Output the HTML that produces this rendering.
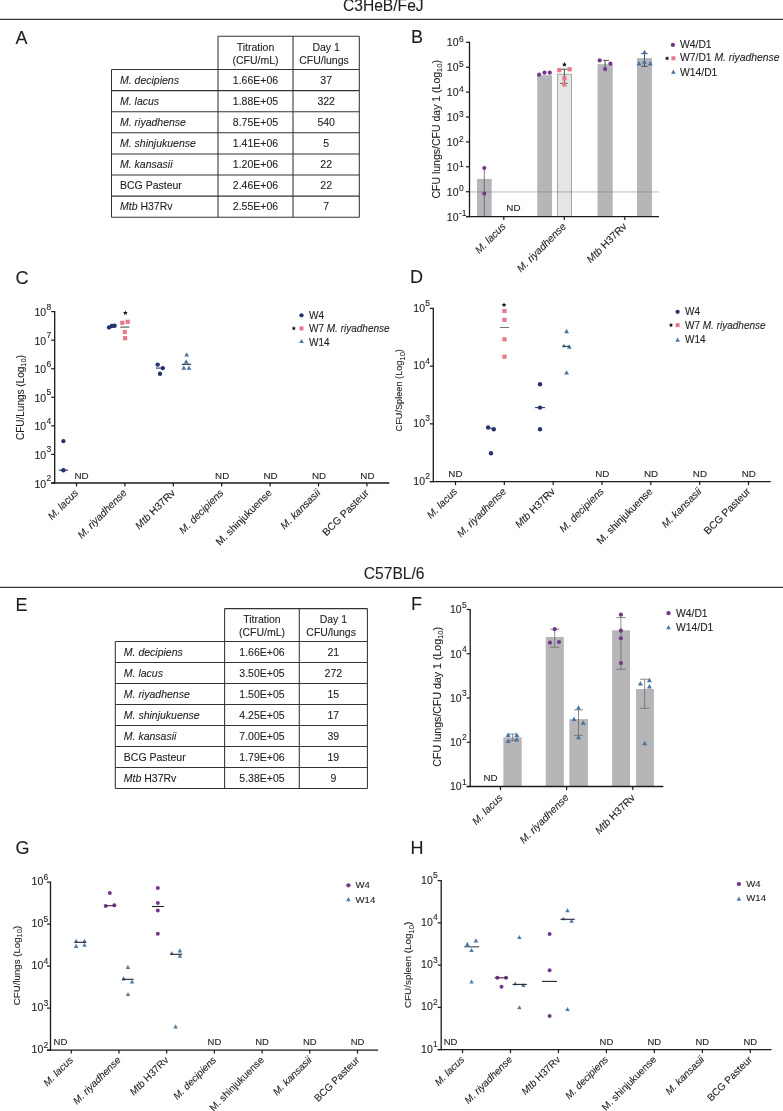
<!DOCTYPE html>
<html><head><meta charset="utf-8"><title>Figure</title>
<style>
html,body{margin:0;padding:0;background:#fff;}
body{width:783px;height:1111px;overflow:hidden;}
svg{display:block;font-family:"Liberation Sans",sans-serif;filter:blur(0.35px);}
text{stroke:#1e1e1e;stroke-width:0.1px;}
</style></head><body>
<svg width="783" height="1111" viewBox="0 0 783 1111">
<rect x="0" y="0" width="783" height="1111" fill="#fff"/>
<text x="343.00" y="10.90" font-size="15.6" text-anchor="start" fill="#1e1e1e" >C3HeB/FeJ</text>
<line x1="0.00" y1="19.30" x2="783.00" y2="19.30" stroke="#3a3a3a" stroke-width="1.3" />
<text x="363.80" y="578.90" font-size="15.6" text-anchor="start" fill="#1e1e1e" >C57BL/6</text>
<line x1="0.00" y1="587.30" x2="783.00" y2="587.30" stroke="#3a3a3a" stroke-width="1.3" />
<text x="15.60" y="43.90" font-size="18" text-anchor="start" fill="#1e1e1e" >A</text>
<text x="411.10" y="43.20" font-size="18" text-anchor="start" fill="#1e1e1e" >B</text>
<text x="15.60" y="283.80" font-size="18" text-anchor="start" fill="#1e1e1e" >C</text>
<text x="410.10" y="283.30" font-size="18" text-anchor="start" fill="#1e1e1e" >D</text>
<text x="15.60" y="610.70" font-size="18" text-anchor="start" fill="#1e1e1e" >E</text>
<text x="411.10" y="610.40" font-size="18" text-anchor="start" fill="#1e1e1e" >F</text>
<text x="15.60" y="854.30" font-size="18" text-anchor="start" fill="#1e1e1e" >G</text>
<text x="410.60" y="854.30" font-size="18" text-anchor="start" fill="#1e1e1e" >H</text>
<line x1="218.00" y1="36.30" x2="359.30" y2="36.30" stroke="#333333" stroke-width="1.05" />
<line x1="218.00" y1="36.30" x2="218.00" y2="217.20" stroke="#333333" stroke-width="1.05" />
<line x1="293.00" y1="36.30" x2="293.00" y2="217.20" stroke="#333333" stroke-width="1.05" />
<line x1="359.30" y1="36.30" x2="359.30" y2="217.20" stroke="#333333" stroke-width="1.05" />
<line x1="111.50" y1="69.50" x2="111.50" y2="217.20" stroke="#333333" stroke-width="1.05" />
<line x1="111.50" y1="69.50" x2="359.30" y2="69.50" stroke="#333333" stroke-width="1.05" />
<line x1="111.50" y1="90.60" x2="359.30" y2="90.60" stroke="#333333" stroke-width="1.05" />
<line x1="111.50" y1="111.70" x2="359.30" y2="111.70" stroke="#333333" stroke-width="1.05" />
<line x1="111.50" y1="132.80" x2="359.30" y2="132.80" stroke="#333333" stroke-width="1.05" />
<line x1="111.50" y1="153.90" x2="359.30" y2="153.90" stroke="#333333" stroke-width="1.05" />
<line x1="111.50" y1="175.00" x2="359.30" y2="175.00" stroke="#333333" stroke-width="1.05" />
<line x1="111.50" y1="196.10" x2="359.30" y2="196.10" stroke="#333333" stroke-width="1.05" />
<line x1="111.50" y1="217.20" x2="359.30" y2="217.20" stroke="#333333" stroke-width="1.05" />
<text x="255.50" y="50.50" font-size="10.5" text-anchor="middle" fill="#1e1e1e" >Titration</text>
<text x="255.50" y="63.60" font-size="10.5" text-anchor="middle" fill="#1e1e1e" >(CFU/mL)</text>
<text x="326.15" y="50.50" font-size="10.5" text-anchor="middle" fill="#1e1e1e" >Day 1</text>
<text x="323.95" y="63.60" font-size="10.5" text-anchor="middle" fill="#1e1e1e" >CFU/lungs</text>
<text x="120.00" y="83.85" font-size="10.5" text-anchor="start" fill="#1e1e1e" ><tspan font-style="italic">M. decipiens</tspan></text>
<text x="255.50" y="83.85" font-size="10.5" text-anchor="middle" fill="#1e1e1e" >1.66E+06</text>
<text x="326.15" y="83.85" font-size="10.5" text-anchor="middle" fill="#1e1e1e" >37</text>
<text x="120.00" y="104.95" font-size="10.5" text-anchor="start" fill="#1e1e1e" ><tspan font-style="italic">M. lacus</tspan></text>
<text x="255.50" y="104.95" font-size="10.5" text-anchor="middle" fill="#1e1e1e" >1.88E+05</text>
<text x="326.15" y="104.95" font-size="10.5" text-anchor="middle" fill="#1e1e1e" >322</text>
<text x="120.00" y="126.05" font-size="10.5" text-anchor="start" fill="#1e1e1e" ><tspan font-style="italic">M. riyadhense</tspan></text>
<text x="255.50" y="126.05" font-size="10.5" text-anchor="middle" fill="#1e1e1e" >8.75E+05</text>
<text x="326.15" y="126.05" font-size="10.5" text-anchor="middle" fill="#1e1e1e" >540</text>
<text x="120.00" y="147.15" font-size="10.5" text-anchor="start" fill="#1e1e1e" ><tspan font-style="italic">M. shinjukuense</tspan></text>
<text x="255.50" y="147.15" font-size="10.5" text-anchor="middle" fill="#1e1e1e" >1.41E+06</text>
<text x="326.15" y="147.15" font-size="10.5" text-anchor="middle" fill="#1e1e1e" >5</text>
<text x="120.00" y="168.25" font-size="10.5" text-anchor="start" fill="#1e1e1e" ><tspan font-style="italic">M. kansasii</tspan></text>
<text x="255.50" y="168.25" font-size="10.5" text-anchor="middle" fill="#1e1e1e" >1.20E+06</text>
<text x="326.15" y="168.25" font-size="10.5" text-anchor="middle" fill="#1e1e1e" >22</text>
<text x="120.00" y="189.35" font-size="10.5" text-anchor="start" fill="#1e1e1e" >BCG Pasteur</text>
<text x="255.50" y="189.35" font-size="10.5" text-anchor="middle" fill="#1e1e1e" >2.46E+06</text>
<text x="326.15" y="189.35" font-size="10.5" text-anchor="middle" fill="#1e1e1e" >22</text>
<text x="120.00" y="210.45" font-size="10.5" text-anchor="start" fill="#1e1e1e" ><tspan font-style="italic">Mtb</tspan> H37Rv</text>
<text x="255.50" y="210.45" font-size="10.5" text-anchor="middle" fill="#1e1e1e" >2.55E+06</text>
<text x="326.15" y="210.45" font-size="10.5" text-anchor="middle" fill="#1e1e1e" >7</text>
<line x1="224.60" y1="608.60" x2="367.40" y2="608.60" stroke="#333333" stroke-width="1.05" />
<line x1="224.60" y1="608.60" x2="224.60" y2="788.40" stroke="#333333" stroke-width="1.05" />
<line x1="299.30" y1="608.60" x2="299.30" y2="788.40" stroke="#333333" stroke-width="1.05" />
<line x1="367.40" y1="608.60" x2="367.40" y2="788.40" stroke="#333333" stroke-width="1.05" />
<line x1="115.30" y1="641.40" x2="115.30" y2="788.40" stroke="#333333" stroke-width="1.05" />
<line x1="115.30" y1="641.40" x2="367.40" y2="641.40" stroke="#333333" stroke-width="1.05" />
<line x1="115.30" y1="662.40" x2="367.40" y2="662.40" stroke="#333333" stroke-width="1.05" />
<line x1="115.30" y1="683.40" x2="367.40" y2="683.40" stroke="#333333" stroke-width="1.05" />
<line x1="115.30" y1="704.40" x2="367.40" y2="704.40" stroke="#333333" stroke-width="1.05" />
<line x1="115.30" y1="725.40" x2="367.40" y2="725.40" stroke="#333333" stroke-width="1.05" />
<line x1="115.30" y1="746.40" x2="367.40" y2="746.40" stroke="#333333" stroke-width="1.05" />
<line x1="115.30" y1="767.40" x2="367.40" y2="767.40" stroke="#333333" stroke-width="1.05" />
<line x1="115.30" y1="788.40" x2="367.40" y2="788.40" stroke="#333333" stroke-width="1.05" />
<text x="261.95" y="622.80" font-size="10.5" text-anchor="middle" fill="#1e1e1e" >Titration</text>
<text x="261.95" y="635.90" font-size="10.5" text-anchor="middle" fill="#1e1e1e" >(CFU/mL)</text>
<text x="333.35" y="622.80" font-size="10.5" text-anchor="middle" fill="#1e1e1e" >Day 1</text>
<text x="331.15" y="635.90" font-size="10.5" text-anchor="middle" fill="#1e1e1e" >CFU/lungs</text>
<text x="123.80" y="655.70" font-size="10.5" text-anchor="start" fill="#1e1e1e" ><tspan font-style="italic">M. decipiens</tspan></text>
<text x="261.95" y="655.70" font-size="10.5" text-anchor="middle" fill="#1e1e1e" >1.66E+06</text>
<text x="333.35" y="655.70" font-size="10.5" text-anchor="middle" fill="#1e1e1e" >21</text>
<text x="123.80" y="676.70" font-size="10.5" text-anchor="start" fill="#1e1e1e" ><tspan font-style="italic">M. lacus</tspan></text>
<text x="261.95" y="676.70" font-size="10.5" text-anchor="middle" fill="#1e1e1e" >3.50E+05</text>
<text x="333.35" y="676.70" font-size="10.5" text-anchor="middle" fill="#1e1e1e" >272</text>
<text x="123.80" y="697.70" font-size="10.5" text-anchor="start" fill="#1e1e1e" ><tspan font-style="italic">M. riyadhense</tspan></text>
<text x="261.95" y="697.70" font-size="10.5" text-anchor="middle" fill="#1e1e1e" >1.50E+05</text>
<text x="333.35" y="697.70" font-size="10.5" text-anchor="middle" fill="#1e1e1e" >15</text>
<text x="123.80" y="718.70" font-size="10.5" text-anchor="start" fill="#1e1e1e" ><tspan font-style="italic">M. shinjukuense</tspan></text>
<text x="261.95" y="718.70" font-size="10.5" text-anchor="middle" fill="#1e1e1e" >4.25E+05</text>
<text x="333.35" y="718.70" font-size="10.5" text-anchor="middle" fill="#1e1e1e" >17</text>
<text x="123.80" y="739.70" font-size="10.5" text-anchor="start" fill="#1e1e1e" ><tspan font-style="italic">M. kansasii</tspan></text>
<text x="261.95" y="739.70" font-size="10.5" text-anchor="middle" fill="#1e1e1e" >7.00E+05</text>
<text x="333.35" y="739.70" font-size="10.5" text-anchor="middle" fill="#1e1e1e" >39</text>
<text x="123.80" y="760.70" font-size="10.5" text-anchor="start" fill="#1e1e1e" >BCG Pasteur</text>
<text x="261.95" y="760.70" font-size="10.5" text-anchor="middle" fill="#1e1e1e" >1.79E+06</text>
<text x="333.35" y="760.70" font-size="10.5" text-anchor="middle" fill="#1e1e1e" >19</text>
<text x="123.80" y="781.70" font-size="10.5" text-anchor="start" fill="#1e1e1e" ><tspan font-style="italic">Mtb</tspan> H37Rv</text>
<text x="261.95" y="781.70" font-size="10.5" text-anchor="middle" fill="#1e1e1e" >5.38E+05</text>
<text x="333.35" y="781.70" font-size="10.5" text-anchor="middle" fill="#1e1e1e" >9</text>
<rect x="477.00" y="178.90" width="14.70" height="37.70" fill="#b6b6b8" stroke="none" stroke-width="0"/>
<rect x="537.20" y="75.20" width="14.80" height="141.40" fill="#b6b6b8" stroke="none" stroke-width="0"/>
<rect x="557.50" y="74.20" width="14.00" height="142.40" fill="#e3e6e5" stroke="#8f8f8f" stroke-width="0.75"/>
<rect x="597.50" y="64.20" width="15.20" height="152.40" fill="#b6b6b8" stroke="none" stroke-width="0"/>
<rect x="637.00" y="58.10" width="15.00" height="158.50" fill="#b6b6b8" stroke="none" stroke-width="0"/>
<line x1="469.50" y1="191.90" x2="659.00" y2="191.90" stroke="rgba(120,120,120,0.28)" stroke-width="1.8" />
<line x1="484.30" y1="168.00" x2="484.30" y2="216.60" stroke="#6a5570" stroke-width="0.8" />
<line x1="564.40" y1="69.20" x2="564.40" y2="83.40" stroke="#335a4a" stroke-width="1.0" />
<line x1="561.00" y1="69.20" x2="567.60" y2="69.20" stroke="#335a4a" stroke-width="1.0" />
<line x1="560.20" y1="83.40" x2="567.60" y2="83.40" stroke="#335a4a" stroke-width="1.0" />
<line x1="605.10" y1="60.40" x2="605.10" y2="69.10" stroke="#444" stroke-width="0.9" />
<line x1="603.00" y1="60.40" x2="609.00" y2="60.40" stroke="#444" stroke-width="0.9" />
<line x1="644.50" y1="52.00" x2="644.50" y2="66.30" stroke="#2a4a6a" stroke-width="0.9" />
<line x1="641.30" y1="53.50" x2="647.70" y2="53.50" stroke="#2a4a6a" stroke-width="0.9" />
<line x1="641.30" y1="66.30" x2="647.70" y2="66.30" stroke="#2a4a6a" stroke-width="0.9" />
<circle cx="484.30" cy="168.00" r="2.1" fill="#74388a"/>
<circle cx="484.30" cy="193.60" r="2.1" fill="#74388a"/>
<circle cx="539.10" cy="74.70" r="2.1" fill="#74388a"/>
<circle cx="544.50" cy="72.70" r="2.1" fill="#74388a"/>
<circle cx="549.80" cy="72.70" r="2.1" fill="#74388a"/>
<rect x="557.20" y="68.10" width="4.2" height="4.2" fill="#e8788a"/>
<rect x="567.50" y="67.20" width="4.2" height="4.2" fill="#e8788a"/>
<rect x="562.30" y="76.30" width="4.2" height="4.2" fill="#e8788a"/>
<rect x="562.30" y="82.40" width="4.2" height="4.2" fill="#e8788a"/>
<polygon points="564.40,62.00 565.09,63.65 566.87,63.80 565.51,64.96 565.93,66.70 564.40,65.77 562.87,66.70 563.29,64.96 561.93,63.80 563.71,63.65" fill="#111"/>
<circle cx="599.70" cy="60.40" r="2.1" fill="#74388a"/>
<circle cx="610.40" cy="63.70" r="2.1" fill="#74388a"/>
<circle cx="605.10" cy="69.10" r="2.1" fill="#74388a"/>
<polygon points="644.50,49.80 642.00,54.30 647.00,54.30" fill="#4a75a0"/>
<polygon points="639.00,61.00 636.50,65.50 641.50,65.50" fill="#4a75a0"/>
<polygon points="650.30,61.00 647.80,65.50 652.80,65.50" fill="#4a75a0"/>
<polygon points="644.50,59.30 642.00,63.80 647.00,63.80" fill="#4a75a0"/>
<line x1="469.50" y1="41.70" x2="469.50" y2="217.20" stroke="#1a1a1a" stroke-width="1.3" />
<line x1="466.00" y1="42.30" x2="469.50" y2="42.30" stroke="#1a1a1a" stroke-width="1.2" />
<text x="458.50" y="46.40" font-size="10.5" text-anchor="end" fill="#1e1e1e" >10</text>
<text x="458.90" y="42.00" font-size="8.5" text-anchor="start" fill="#1e1e1e" >6</text>
<line x1="466.00" y1="67.20" x2="469.50" y2="67.20" stroke="#1a1a1a" stroke-width="1.2" />
<text x="458.50" y="71.30" font-size="10.5" text-anchor="end" fill="#1e1e1e" >10</text>
<text x="458.90" y="66.90" font-size="8.5" text-anchor="start" fill="#1e1e1e" >5</text>
<line x1="466.00" y1="92.10" x2="469.50" y2="92.10" stroke="#1a1a1a" stroke-width="1.2" />
<text x="458.50" y="96.20" font-size="10.5" text-anchor="end" fill="#1e1e1e" >10</text>
<text x="458.90" y="91.80" font-size="8.5" text-anchor="start" fill="#1e1e1e" >4</text>
<line x1="466.00" y1="117.00" x2="469.50" y2="117.00" stroke="#1a1a1a" stroke-width="1.2" />
<text x="458.50" y="121.10" font-size="10.5" text-anchor="end" fill="#1e1e1e" >10</text>
<text x="458.90" y="116.70" font-size="8.5" text-anchor="start" fill="#1e1e1e" >3</text>
<line x1="466.00" y1="141.90" x2="469.50" y2="141.90" stroke="#1a1a1a" stroke-width="1.2" />
<text x="458.50" y="146.00" font-size="10.5" text-anchor="end" fill="#1e1e1e" >10</text>
<text x="458.90" y="141.60" font-size="8.5" text-anchor="start" fill="#1e1e1e" >2</text>
<line x1="466.00" y1="166.80" x2="469.50" y2="166.80" stroke="#1a1a1a" stroke-width="1.2" />
<text x="458.50" y="170.90" font-size="10.5" text-anchor="end" fill="#1e1e1e" >10</text>
<text x="458.90" y="166.50" font-size="8.5" text-anchor="start" fill="#1e1e1e" >1</text>
<line x1="466.00" y1="191.70" x2="469.50" y2="191.70" stroke="#1a1a1a" stroke-width="1.2" />
<text x="458.50" y="195.80" font-size="10.5" text-anchor="end" fill="#1e1e1e" >10</text>
<text x="458.90" y="191.40" font-size="8.5" text-anchor="start" fill="#1e1e1e" >0</text>
<line x1="466.00" y1="216.60" x2="469.50" y2="216.60" stroke="#1a1a1a" stroke-width="1.2" />
<text x="458.50" y="220.70" font-size="10.5" text-anchor="end" fill="#1e1e1e" >10</text>
<text x="458.90" y="216.30" font-size="8.5" text-anchor="start" fill="#1e1e1e" >-1</text>
<line x1="466.00" y1="216.60" x2="659.00" y2="216.60" stroke="#1a1a1a" stroke-width="1.3" />
<line x1="503.80" y1="216.60" x2="503.80" y2="220.10" stroke="#1a1a1a" stroke-width="1.2" />
<line x1="564.30" y1="216.60" x2="564.30" y2="220.10" stroke="#1a1a1a" stroke-width="1.2" />
<line x1="624.80" y1="216.60" x2="624.80" y2="220.10" stroke="#1a1a1a" stroke-width="1.2" />
<text x="513.40" y="211.00" font-size="9.8" text-anchor="middle" fill="#1e1e1e" >ND</text>
<text x="506.30" y="227.10" font-size="10.3" text-anchor="end" fill="#1e1e1e" transform="rotate(-45 506.30 227.10)"><tspan font-style="italic">M. lacus</tspan></text>
<text x="566.80" y="227.10" font-size="10.3" text-anchor="end" fill="#1e1e1e" transform="rotate(-45 566.80 227.10)"><tspan font-style="italic">M. riyadhense</tspan></text>
<text x="627.30" y="227.10" font-size="10.3" text-anchor="end" fill="#1e1e1e" transform="rotate(-45 627.30 227.10)"><tspan font-style="italic">Mtb</tspan> H37Rv</text>
<text x="440.10" y="129.30" font-size="10.5" text-anchor="middle" fill="#1e1e1e" transform="rotate(-90 440.10 129.30)">CFU lungs/CFU day 1 (Log<tspan font-size="7.5" dy="2.4">10</tspan><tspan dy="-2.4">)</tspan></text>
<circle cx="672.90" cy="44.90" r="2.15" fill="#74388a"/>
<text x="680.00" y="47.60" font-size="10.35" text-anchor="start" fill="#1e1e1e" >W4/D1</text>
<polygon points="667.10,55.90 667.73,57.43 669.38,57.56 668.13,58.63 668.51,60.24 667.10,59.38 665.69,60.24 666.07,58.63 664.82,57.56 666.47,57.43" fill="#111"/>
<rect x="671.40" y="56.30" width="4.0" height="4.0" fill="#e8788a"/>
<text x="680.00" y="61.40" font-size="10.35" text-anchor="start" fill="#1e1e1e" >W7/D1 <tspan font-style="italic">M. riyadhense</tspan></text>
<polygon points="673.40,69.62 671.10,73.76 675.70,73.76" fill="#4a75a0"/>
<text x="680.00" y="75.50" font-size="10.35" text-anchor="start" fill="#1e1e1e" >W14/D1</text>
<line x1="54.70" y1="311.00" x2="54.70" y2="483.60" stroke="#1a1a1a" stroke-width="1.3" />
<line x1="51.20" y1="311.60" x2="54.70" y2="311.60" stroke="#1a1a1a" stroke-width="1.2" />
<text x="46.20" y="316.20" font-size="10.5" text-anchor="end" fill="#1e1e1e" >10</text>
<text x="46.50" y="309.50" font-size="8.5" text-anchor="start" fill="#1e1e1e" >8</text>
<line x1="51.20" y1="340.17" x2="54.70" y2="340.17" stroke="#1a1a1a" stroke-width="1.2" />
<text x="46.20" y="344.77" font-size="10.5" text-anchor="end" fill="#1e1e1e" >10</text>
<text x="46.50" y="338.07" font-size="8.5" text-anchor="start" fill="#1e1e1e" >7</text>
<line x1="51.20" y1="368.73" x2="54.70" y2="368.73" stroke="#1a1a1a" stroke-width="1.2" />
<text x="46.20" y="373.33" font-size="10.5" text-anchor="end" fill="#1e1e1e" >10</text>
<text x="46.50" y="366.63" font-size="8.5" text-anchor="start" fill="#1e1e1e" >6</text>
<line x1="51.20" y1="397.30" x2="54.70" y2="397.30" stroke="#1a1a1a" stroke-width="1.2" />
<text x="46.20" y="401.90" font-size="10.5" text-anchor="end" fill="#1e1e1e" >10</text>
<text x="46.50" y="395.20" font-size="8.5" text-anchor="start" fill="#1e1e1e" >5</text>
<line x1="51.20" y1="425.87" x2="54.70" y2="425.87" stroke="#1a1a1a" stroke-width="1.2" />
<text x="46.20" y="430.47" font-size="10.5" text-anchor="end" fill="#1e1e1e" >10</text>
<text x="46.50" y="423.77" font-size="8.5" text-anchor="start" fill="#1e1e1e" >4</text>
<line x1="51.20" y1="454.43" x2="54.70" y2="454.43" stroke="#1a1a1a" stroke-width="1.2" />
<text x="46.20" y="459.03" font-size="10.5" text-anchor="end" fill="#1e1e1e" >10</text>
<text x="46.50" y="452.33" font-size="8.5" text-anchor="start" fill="#1e1e1e" >3</text>
<line x1="51.20" y1="483.00" x2="54.70" y2="483.00" stroke="#1a1a1a" stroke-width="1.2" />
<text x="46.20" y="487.60" font-size="10.5" text-anchor="end" fill="#1e1e1e" >10</text>
<text x="46.50" y="480.90" font-size="8.5" text-anchor="start" fill="#1e1e1e" >2</text>
<line x1="51.20" y1="483.00" x2="389.40" y2="483.00" stroke="#1a1a1a" stroke-width="1.3" />
<line x1="76.50" y1="483.00" x2="76.50" y2="486.50" stroke="#1a1a1a" stroke-width="1.2" />
<line x1="124.90" y1="483.00" x2="124.90" y2="486.50" stroke="#1a1a1a" stroke-width="1.2" />
<line x1="173.30" y1="483.00" x2="173.30" y2="486.50" stroke="#1a1a1a" stroke-width="1.2" />
<line x1="221.70" y1="483.00" x2="221.70" y2="486.50" stroke="#1a1a1a" stroke-width="1.2" />
<line x1="270.10" y1="483.00" x2="270.10" y2="486.50" stroke="#1a1a1a" stroke-width="1.2" />
<line x1="318.50" y1="483.00" x2="318.50" y2="486.50" stroke="#1a1a1a" stroke-width="1.2" />
<line x1="366.90" y1="483.00" x2="366.90" y2="486.50" stroke="#1a1a1a" stroke-width="1.2" />
<text x="79.00" y="493.50" font-size="10.3" text-anchor="end" fill="#1e1e1e" transform="rotate(-45 79.00 493.50)"><tspan font-style="italic">M. lacus</tspan></text>
<text x="127.40" y="493.50" font-size="10.3" text-anchor="end" fill="#1e1e1e" transform="rotate(-45 127.40 493.50)"><tspan font-style="italic">M. riyadhense</tspan></text>
<text x="175.80" y="493.50" font-size="10.3" text-anchor="end" fill="#1e1e1e" transform="rotate(-45 175.80 493.50)"><tspan font-style="italic">Mtb</tspan> H37Rv</text>
<text x="224.20" y="493.50" font-size="10.3" text-anchor="end" fill="#1e1e1e" transform="rotate(-45 224.20 493.50)"><tspan font-style="italic">M. decipiens</tspan></text>
<text x="272.60" y="493.50" font-size="10.3" text-anchor="end" fill="#1e1e1e" transform="rotate(-45 272.60 493.50)">M. shinjukuense</text>
<text x="321.00" y="493.50" font-size="10.3" text-anchor="end" fill="#1e1e1e" transform="rotate(-45 321.00 493.50)"><tspan font-style="italic">M. kansasii</tspan></text>
<text x="369.40" y="493.50" font-size="10.3" text-anchor="end" fill="#1e1e1e" transform="rotate(-45 369.40 493.50)">BCG Pasteur</text>
<text x="81.50" y="478.60" font-size="9.8" text-anchor="middle" fill="#1e1e1e" >ND</text>
<text x="222.20" y="478.60" font-size="9.8" text-anchor="middle" fill="#1e1e1e" >ND</text>
<text x="270.60" y="478.60" font-size="9.8" text-anchor="middle" fill="#1e1e1e" >ND</text>
<text x="319.00" y="478.60" font-size="9.8" text-anchor="middle" fill="#1e1e1e" >ND</text>
<text x="367.40" y="478.60" font-size="9.8" text-anchor="middle" fill="#1e1e1e" >ND</text>
<circle cx="63.40" cy="441.10" r="2.2" fill="#25346e"/>
<circle cx="63.40" cy="470.20" r="2.2" fill="#25346e"/>
<line x1="59.00" y1="470.20" x2="67.90" y2="470.20" stroke="#25346e" stroke-width="1.2" />
<circle cx="109.00" cy="327.40" r="2.2" fill="#25346e"/>
<circle cx="111.80" cy="326.00" r="2.2" fill="#25346e"/>
<circle cx="114.60" cy="325.70" r="2.2" fill="#25346e"/>
<rect x="120.20" y="320.70" width="4.2" height="4.2" fill="#e8788a"/>
<rect x="125.60" y="319.70" width="4.2" height="4.2" fill="#e8788a"/>
<rect x="122.70" y="329.90" width="4.2" height="4.2" fill="#e8788a"/>
<rect x="123.00" y="336.10" width="4.2" height="4.2" fill="#e8788a"/>
<line x1="120.20" y1="327.10" x2="129.30" y2="327.10" stroke="#3a5a40" stroke-width="1.1" />
<polygon points="125.40,310.40 126.06,311.99 127.78,312.13 126.47,313.25 126.87,314.92 125.40,314.02 123.93,314.92 124.33,313.25 123.02,312.13 124.74,311.99" fill="#111"/>
<circle cx="157.70" cy="364.60" r="2.2" fill="#25346e"/>
<circle cx="162.80" cy="368.10" r="2.2" fill="#25346e"/>
<circle cx="160.00" cy="373.80" r="2.2" fill="#25346e"/>
<line x1="156.00" y1="368.10" x2="164.50" y2="368.10" stroke="#25346e" stroke-width="1.1" />
<polygon points="186.70,352.21 184.30,356.53 189.10,356.53" fill="#4a75a0"/>
<polygon points="186.20,359.21 183.80,363.53 188.60,363.53" fill="#4a75a0"/>
<polygon points="183.80,365.51 181.40,369.83 186.20,369.83" fill="#4a75a0"/>
<polygon points="189.00,365.51 186.60,369.83 191.40,369.83" fill="#4a75a0"/>
<line x1="182.00" y1="364.30" x2="191.00" y2="364.30" stroke="#223" stroke-width="1.1" />
<text x="24.00" y="397.50" font-size="10.0" text-anchor="middle" fill="#1e1e1e" transform="rotate(-90 24.00 397.50)">CFU/Lungs (Log<tspan font-size="7.5" dy="2.4">10</tspan><tspan dy="-2.4">)</tspan></text>
<circle cx="301.50" cy="315.30" r="2.15" fill="#25346e"/>
<text x="309.00" y="318.70" font-size="10.0" text-anchor="start" fill="#1e1e1e" >W4</text>
<polygon points="293.80,326.10 294.41,327.56 295.99,327.69 294.78,328.72 295.15,330.26 293.80,329.44 292.45,330.26 292.82,328.72 291.61,327.69 293.19,327.56" fill="#111"/>
<rect x="299.50" y="326.40" width="4.0" height="4.0" fill="#e8788a"/>
<text x="309.00" y="332.00" font-size="10.0" text-anchor="start" fill="#1e1e1e" >W7 <tspan font-style="italic">M. riyadhense</tspan></text>
<polygon points="301.50,338.92 299.20,343.06 303.80,343.06" fill="#4a75a0"/>
<text x="309.00" y="345.80" font-size="10.0" text-anchor="start" fill="#1e1e1e" >W14</text>
<line x1="433.30" y1="307.80" x2="433.30" y2="482.20" stroke="#1a1a1a" stroke-width="1.3" />
<line x1="429.80" y1="308.40" x2="433.30" y2="308.40" stroke="#1a1a1a" stroke-width="1.2" />
<text x="425.00" y="311.70" font-size="10.5" text-anchor="end" fill="#1e1e1e" >10</text>
<text x="425.30" y="306.00" font-size="8.5" text-anchor="start" fill="#1e1e1e" >5</text>
<line x1="429.80" y1="366.13" x2="433.30" y2="366.13" stroke="#1a1a1a" stroke-width="1.2" />
<text x="425.00" y="369.43" font-size="10.5" text-anchor="end" fill="#1e1e1e" >10</text>
<text x="425.30" y="363.73" font-size="8.5" text-anchor="start" fill="#1e1e1e" >4</text>
<line x1="429.80" y1="423.87" x2="433.30" y2="423.87" stroke="#1a1a1a" stroke-width="1.2" />
<text x="425.00" y="427.17" font-size="10.5" text-anchor="end" fill="#1e1e1e" >10</text>
<text x="425.30" y="421.47" font-size="8.5" text-anchor="start" fill="#1e1e1e" >3</text>
<line x1="429.80" y1="481.60" x2="433.30" y2="481.60" stroke="#1a1a1a" stroke-width="1.2" />
<text x="425.00" y="484.90" font-size="10.5" text-anchor="end" fill="#1e1e1e" >10</text>
<text x="425.30" y="479.20" font-size="8.5" text-anchor="start" fill="#1e1e1e" >2</text>
<line x1="429.80" y1="481.60" x2="770.80" y2="481.60" stroke="#1a1a1a" stroke-width="1.3" />
<line x1="455.50" y1="481.60" x2="455.50" y2="485.10" stroke="#1a1a1a" stroke-width="1.2" />
<line x1="504.33" y1="481.60" x2="504.33" y2="485.10" stroke="#1a1a1a" stroke-width="1.2" />
<line x1="553.16" y1="481.60" x2="553.16" y2="485.10" stroke="#1a1a1a" stroke-width="1.2" />
<line x1="601.99" y1="481.60" x2="601.99" y2="485.10" stroke="#1a1a1a" stroke-width="1.2" />
<line x1="650.82" y1="481.60" x2="650.82" y2="485.10" stroke="#1a1a1a" stroke-width="1.2" />
<line x1="699.65" y1="481.60" x2="699.65" y2="485.10" stroke="#1a1a1a" stroke-width="1.2" />
<line x1="748.48" y1="481.60" x2="748.48" y2="485.10" stroke="#1a1a1a" stroke-width="1.2" />
<text x="458.00" y="492.10" font-size="10.3" text-anchor="end" fill="#1e1e1e" transform="rotate(-45 458.00 492.10)"><tspan font-style="italic">M. lacus</tspan></text>
<text x="506.83" y="492.10" font-size="10.3" text-anchor="end" fill="#1e1e1e" transform="rotate(-45 506.83 492.10)"><tspan font-style="italic">M. riyadhense</tspan></text>
<text x="555.66" y="492.10" font-size="10.3" text-anchor="end" fill="#1e1e1e" transform="rotate(-45 555.66 492.10)"><tspan font-style="italic">Mtb</tspan> H37Rv</text>
<text x="604.49" y="492.10" font-size="10.3" text-anchor="end" fill="#1e1e1e" transform="rotate(-45 604.49 492.10)"><tspan font-style="italic">M. decipiens</tspan></text>
<text x="653.32" y="492.10" font-size="10.3" text-anchor="end" fill="#1e1e1e" transform="rotate(-45 653.32 492.10)">M. shinjukuense</text>
<text x="702.15" y="492.10" font-size="10.3" text-anchor="end" fill="#1e1e1e" transform="rotate(-45 702.15 492.10)"><tspan font-style="italic">M. kansasii</tspan></text>
<text x="750.98" y="492.10" font-size="10.3" text-anchor="end" fill="#1e1e1e" transform="rotate(-45 750.98 492.10)">BCG Pasteur</text>
<text x="455.40" y="476.80" font-size="9.8" text-anchor="middle" fill="#1e1e1e" >ND</text>
<text x="602.29" y="476.80" font-size="9.8" text-anchor="middle" fill="#1e1e1e" >ND</text>
<text x="651.12" y="476.80" font-size="9.8" text-anchor="middle" fill="#1e1e1e" >ND</text>
<text x="699.95" y="476.80" font-size="9.8" text-anchor="middle" fill="#1e1e1e" >ND</text>
<text x="748.78" y="476.80" font-size="9.8" text-anchor="middle" fill="#1e1e1e" >ND</text>
<rect x="502.40" y="308.90" width="4.2" height="4.2" fill="#e8788a"/>
<rect x="502.40" y="317.80" width="4.2" height="4.2" fill="#e8788a"/>
<rect x="502.40" y="337.20" width="4.2" height="4.2" fill="#e8788a"/>
<rect x="502.40" y="354.60" width="4.2" height="4.2" fill="#e8788a"/>
<line x1="499.90" y1="327.50" x2="509.10" y2="327.50" stroke="#777" stroke-width="1.0" />
<polygon points="504.00,302.50 504.66,304.09 506.38,304.23 505.07,305.35 505.47,307.02 504.00,306.12 502.53,307.02 502.93,305.35 501.62,304.23 503.34,304.09" fill="#111"/>
<circle cx="488.10" cy="427.50" r="2.2" fill="#25346e"/>
<circle cx="493.80" cy="429.30" r="2.2" fill="#25346e"/>
<circle cx="491.00" cy="453.30" r="2.2" fill="#25346e"/>
<line x1="487.00" y1="428.30" x2="494.00" y2="428.30" stroke="#25346e" stroke-width="1.0" />
<circle cx="540.00" cy="384.30" r="2.2" fill="#25346e"/>
<circle cx="540.00" cy="407.60" r="2.2" fill="#25346e"/>
<circle cx="540.00" cy="429.30" r="2.2" fill="#25346e"/>
<line x1="535.10" y1="407.60" x2="545.10" y2="407.60" stroke="#25346e" stroke-width="1.1" />
<polygon points="566.60,328.81 564.20,333.13 569.00,333.13" fill="#4a75a0"/>
<polygon points="563.80,343.74 561.80,347.34 565.80,347.34" fill="#4a75a0"/>
<polygon points="569.30,344.41 566.90,348.73 571.70,348.73" fill="#4a75a0"/>
<polygon points="566.60,370.21 564.20,374.53 569.00,374.53" fill="#4a75a0"/>
<line x1="563.00" y1="346.30" x2="570.00" y2="346.30" stroke="#234" stroke-width="1.0" />
<text x="402.50" y="390.30" font-size="9.2" text-anchor="middle" fill="#1e1e1e" transform="rotate(-90 402.50 390.30)">CFU/Spleen (Log<tspan font-size="7.5" dy="2.4">10</tspan><tspan dy="-2.4">)</tspan></text>
<circle cx="677.60" cy="311.80" r="2.15" fill="#25346e"/>
<text x="685.00" y="314.90" font-size="10.0" text-anchor="start" fill="#1e1e1e" >W4</text>
<polygon points="671.00,322.80 671.61,324.26 673.19,324.39 671.98,325.42 672.35,326.96 671.00,326.14 669.65,326.96 670.02,325.42 668.81,324.39 670.39,324.26" fill="#111"/>
<rect x="675.60" y="323.10" width="4.0" height="4.0" fill="#e8788a"/>
<text x="685.00" y="328.70" font-size="10.0" text-anchor="start" fill="#1e1e1e" >W7 <tspan font-style="italic">M. riyadhense</tspan></text>
<polygon points="677.60,337.52 675.30,341.66 679.90,341.66" fill="#4a75a0"/>
<text x="685.00" y="342.70" font-size="10.0" text-anchor="start" fill="#1e1e1e" >W14</text>
<rect x="503.40" y="737.30" width="18.30" height="49.20" fill="#b6b6b8" stroke="none" stroke-width="0"/>
<rect x="545.70" y="637.00" width="18.10" height="149.50" fill="#b6b6b8" stroke="none" stroke-width="0"/>
<rect x="569.40" y="719.10" width="18.60" height="67.40" fill="#b6b6b8" stroke="none" stroke-width="0"/>
<rect x="612.10" y="630.30" width="17.90" height="156.20" fill="#b6b6b8" stroke="none" stroke-width="0"/>
<rect x="636.00" y="689.00" width="17.90" height="97.50" fill="#b6b6b8" stroke="none" stroke-width="0"/>
<line x1="512.60" y1="734.10" x2="512.60" y2="740.40" stroke="#666" stroke-width="0.75" />
<line x1="508.50" y1="734.10" x2="516.70" y2="734.10" stroke="#666" stroke-width="0.75" />
<line x1="508.50" y1="740.40" x2="516.70" y2="740.40" stroke="#666" stroke-width="0.75" />
<line x1="554.70" y1="629.20" x2="554.70" y2="647.20" stroke="#666" stroke-width="0.75" />
<line x1="550.00" y1="629.20" x2="559.50" y2="629.20" stroke="#666" stroke-width="0.75" />
<line x1="550.00" y1="647.20" x2="559.50" y2="647.20" stroke="#666" stroke-width="0.75" />
<line x1="578.50" y1="709.80" x2="578.50" y2="735.30" stroke="#666" stroke-width="0.75" />
<line x1="574.00" y1="709.80" x2="583.00" y2="709.80" stroke="#666" stroke-width="0.75" />
<line x1="574.00" y1="735.30" x2="583.00" y2="735.30" stroke="#666" stroke-width="0.75" />
<line x1="620.90" y1="617.60" x2="620.90" y2="669.30" stroke="#666" stroke-width="0.75" />
<line x1="616.20" y1="617.60" x2="625.80" y2="617.60" stroke="#666" stroke-width="0.75" />
<line x1="616.20" y1="669.30" x2="625.80" y2="669.30" stroke="#666" stroke-width="0.75" />
<line x1="644.70" y1="679.20" x2="644.70" y2="708.30" stroke="#666" stroke-width="0.75" />
<line x1="640.00" y1="679.20" x2="649.40" y2="679.20" stroke="#666" stroke-width="0.75" />
<line x1="640.00" y1="708.30" x2="649.40" y2="708.30" stroke="#666" stroke-width="0.75" />
<polygon points="508.10,732.60 505.60,737.10 510.60,737.10" fill="#4a75a0"/>
<polygon points="516.80,732.60 514.30,737.10 519.30,737.10" fill="#4a75a0"/>
<polygon points="508.10,738.40 505.60,742.90 510.60,742.90" fill="#4a75a0"/>
<polygon points="516.80,737.10 514.30,741.60 519.30,741.60" fill="#4a75a0"/>
<circle cx="554.70" cy="629.20" r="2.1" fill="#74388a"/>
<circle cx="550.00" cy="642.70" r="2.1" fill="#74388a"/>
<circle cx="559.00" cy="642.00" r="2.1" fill="#74388a"/>
<polygon points="578.50,705.20 576.00,709.70 581.00,709.70" fill="#4a75a0"/>
<polygon points="574.00,716.40 571.50,720.90 576.50,720.90" fill="#4a75a0"/>
<polygon points="583.20,720.30 580.70,724.80 585.70,724.80" fill="#4a75a0"/>
<polygon points="578.50,734.80 576.00,739.30 581.00,739.30" fill="#4a75a0"/>
<circle cx="620.90" cy="614.70" r="2.1" fill="#74388a"/>
<circle cx="620.90" cy="630.70" r="2.1" fill="#74388a"/>
<circle cx="620.90" cy="638.30" r="2.1" fill="#74388a"/>
<circle cx="620.90" cy="663.00" r="2.1" fill="#74388a"/>
<polygon points="640.40,681.00 637.90,685.50 642.90,685.50" fill="#4a75a0"/>
<polygon points="649.40,677.80 646.90,682.30 651.90,682.30" fill="#4a75a0"/>
<polygon points="649.40,684.10 646.90,688.60 651.90,688.60" fill="#4a75a0"/>
<polygon points="644.70,740.70 642.20,745.20 647.20,745.20" fill="#4a75a0"/>
<line x1="470.20" y1="608.90" x2="470.20" y2="787.10" stroke="#1a1a1a" stroke-width="1.3" />
<line x1="466.70" y1="609.50" x2="470.20" y2="609.50" stroke="#1a1a1a" stroke-width="1.2" />
<text x="461.60" y="613.25" font-size="10.5" text-anchor="end" fill="#1e1e1e" >10</text>
<text x="461.90" y="607.50" font-size="8.5" text-anchor="start" fill="#1e1e1e" >5</text>
<line x1="466.70" y1="653.75" x2="470.20" y2="653.75" stroke="#1a1a1a" stroke-width="1.2" />
<text x="461.60" y="657.50" font-size="10.5" text-anchor="end" fill="#1e1e1e" >10</text>
<text x="461.90" y="651.75" font-size="8.5" text-anchor="start" fill="#1e1e1e" >4</text>
<line x1="466.70" y1="698.00" x2="470.20" y2="698.00" stroke="#1a1a1a" stroke-width="1.2" />
<text x="461.60" y="701.75" font-size="10.5" text-anchor="end" fill="#1e1e1e" >10</text>
<text x="461.90" y="696.00" font-size="8.5" text-anchor="start" fill="#1e1e1e" >3</text>
<line x1="466.70" y1="742.25" x2="470.20" y2="742.25" stroke="#1a1a1a" stroke-width="1.2" />
<text x="461.60" y="746.00" font-size="10.5" text-anchor="end" fill="#1e1e1e" >10</text>
<text x="461.90" y="740.25" font-size="8.5" text-anchor="start" fill="#1e1e1e" >2</text>
<line x1="466.70" y1="786.50" x2="470.20" y2="786.50" stroke="#1a1a1a" stroke-width="1.2" />
<text x="461.60" y="790.25" font-size="10.5" text-anchor="end" fill="#1e1e1e" >10</text>
<text x="461.90" y="784.50" font-size="8.5" text-anchor="start" fill="#1e1e1e" >1</text>
<line x1="466.70" y1="786.50" x2="663.40" y2="786.50" stroke="#1a1a1a" stroke-width="1.3" />
<line x1="500.50" y1="786.50" x2="500.50" y2="790.00" stroke="#1a1a1a" stroke-width="1.2" />
<line x1="566.60" y1="786.50" x2="566.60" y2="790.00" stroke="#1a1a1a" stroke-width="1.2" />
<line x1="632.80" y1="786.50" x2="632.80" y2="790.00" stroke="#1a1a1a" stroke-width="1.2" />
<text x="503.30" y="798.30" font-size="10.3" text-anchor="end" fill="#1e1e1e" transform="rotate(-45 503.30 798.30)"><tspan font-style="italic">M. lacus</tspan></text>
<text x="569.40" y="798.30" font-size="10.3" text-anchor="end" fill="#1e1e1e" transform="rotate(-45 569.40 798.30)"><tspan font-style="italic">M. riyadhense</tspan></text>
<text x="635.60" y="798.30" font-size="10.3" text-anchor="end" fill="#1e1e1e" transform="rotate(-45 635.60 798.30)"><tspan font-style="italic">Mtb</tspan> H37Rv</text>
<text x="490.50" y="780.60" font-size="9.8" text-anchor="middle" fill="#1e1e1e" >ND</text>
<text x="441.00" y="696.80" font-size="10.6" text-anchor="middle" fill="#1e1e1e" transform="rotate(-90 441.00 696.80)">CFU lungs/CFU day 1 (Log<tspan font-size="7.5" dy="2.4">10</tspan><tspan dy="-2.4">)</tspan></text>
<circle cx="668.50" cy="613.20" r="2.15" fill="#74388a"/>
<text x="676.00" y="616.60" font-size="10.35" text-anchor="start" fill="#1e1e1e" >W4/D1</text>
<polygon points="668.50,625.02 666.20,629.16 670.80,629.16" fill="#4a75a0"/>
<text x="676.00" y="630.70" font-size="10.35" text-anchor="start" fill="#1e1e1e" >W14/D1</text>
<line x1="50.50" y1="881.50" x2="50.50" y2="1050.70" stroke="#1a1a1a" stroke-width="1.3" />
<line x1="47.00" y1="882.10" x2="50.50" y2="882.10" stroke="#1a1a1a" stroke-width="1.2" />
<text x="43.30" y="885.30" font-size="10.5" text-anchor="end" fill="#1e1e1e" >10</text>
<text x="43.60" y="879.50" font-size="8.5" text-anchor="start" fill="#1e1e1e" >6</text>
<line x1="47.00" y1="924.10" x2="50.50" y2="924.10" stroke="#1a1a1a" stroke-width="1.2" />
<text x="43.30" y="927.30" font-size="10.5" text-anchor="end" fill="#1e1e1e" >10</text>
<text x="43.60" y="921.50" font-size="8.5" text-anchor="start" fill="#1e1e1e" >5</text>
<line x1="47.00" y1="966.10" x2="50.50" y2="966.10" stroke="#1a1a1a" stroke-width="1.2" />
<text x="43.30" y="969.30" font-size="10.5" text-anchor="end" fill="#1e1e1e" >10</text>
<text x="43.60" y="963.50" font-size="8.5" text-anchor="start" fill="#1e1e1e" >4</text>
<line x1="47.00" y1="1008.10" x2="50.50" y2="1008.10" stroke="#1a1a1a" stroke-width="1.2" />
<text x="43.30" y="1011.30" font-size="10.5" text-anchor="end" fill="#1e1e1e" >10</text>
<text x="43.60" y="1005.50" font-size="8.5" text-anchor="start" fill="#1e1e1e" >3</text>
<line x1="47.00" y1="1050.10" x2="50.50" y2="1050.10" stroke="#1a1a1a" stroke-width="1.2" />
<text x="43.30" y="1053.30" font-size="10.5" text-anchor="end" fill="#1e1e1e" >10</text>
<text x="43.60" y="1047.50" font-size="8.5" text-anchor="start" fill="#1e1e1e" >2</text>
<line x1="47.00" y1="1050.10" x2="378.10" y2="1050.10" stroke="#1a1a1a" stroke-width="1.3" />
<line x1="71.30" y1="1050.10" x2="71.30" y2="1053.60" stroke="#1a1a1a" stroke-width="1.2" />
<line x1="119.00" y1="1050.10" x2="119.00" y2="1053.60" stroke="#1a1a1a" stroke-width="1.2" />
<line x1="166.70" y1="1050.10" x2="166.70" y2="1053.60" stroke="#1a1a1a" stroke-width="1.2" />
<line x1="214.40" y1="1050.10" x2="214.40" y2="1053.60" stroke="#1a1a1a" stroke-width="1.2" />
<line x1="262.10" y1="1050.10" x2="262.10" y2="1053.60" stroke="#1a1a1a" stroke-width="1.2" />
<line x1="309.80" y1="1050.10" x2="309.80" y2="1053.60" stroke="#1a1a1a" stroke-width="1.2" />
<line x1="357.50" y1="1050.10" x2="357.50" y2="1053.60" stroke="#1a1a1a" stroke-width="1.2" />
<text x="73.80" y="1060.60" font-size="10.0" text-anchor="end" fill="#1e1e1e" transform="rotate(-45 73.80 1060.60)"><tspan font-style="italic">M. lacus</tspan></text>
<text x="121.50" y="1060.60" font-size="10.0" text-anchor="end" fill="#1e1e1e" transform="rotate(-45 121.50 1060.60)"><tspan font-style="italic">M. riyadhense</tspan></text>
<text x="169.20" y="1060.60" font-size="10.0" text-anchor="end" fill="#1e1e1e" transform="rotate(-45 169.20 1060.60)"><tspan font-style="italic">Mtb</tspan> H37Rv</text>
<text x="216.90" y="1060.60" font-size="10.0" text-anchor="end" fill="#1e1e1e" transform="rotate(-45 216.90 1060.60)"><tspan font-style="italic">M. decipiens</tspan></text>
<text x="264.60" y="1060.60" font-size="10.0" text-anchor="end" fill="#1e1e1e" transform="rotate(-45 264.60 1060.60)">M. shinjukuense</text>
<text x="312.30" y="1060.60" font-size="10.0" text-anchor="end" fill="#1e1e1e" transform="rotate(-45 312.30 1060.60)"><tspan font-style="italic">M. kansasii</tspan></text>
<text x="360.00" y="1060.60" font-size="10.0" text-anchor="end" fill="#1e1e1e" transform="rotate(-45 360.00 1060.60)">BCG Pasteur</text>
<text x="60.40" y="1044.70" font-size="9.5" text-anchor="middle" fill="#1e1e1e" >ND</text>
<text x="214.40" y="1044.90" font-size="9.5" text-anchor="middle" fill="#1e1e1e" >ND</text>
<text x="262.10" y="1044.90" font-size="9.5" text-anchor="middle" fill="#1e1e1e" >ND</text>
<text x="309.80" y="1044.90" font-size="9.5" text-anchor="middle" fill="#1e1e1e" >ND</text>
<text x="357.50" y="1044.90" font-size="9.5" text-anchor="middle" fill="#1e1e1e" >ND</text>
<polygon points="76.10,938.87 73.85,942.92 78.35,942.92" fill="#557a9e"/>
<polygon points="84.50,938.87 82.25,942.92 86.75,942.92" fill="#557a9e"/>
<polygon points="76.10,943.87 73.85,947.92 78.35,947.92" fill="#557a9e"/>
<polygon points="84.50,942.67 82.25,946.72 86.75,946.72" fill="#557a9e"/>
<line x1="74.60" y1="942.30" x2="86.00" y2="942.30" stroke="#223" stroke-width="1.1" />
<circle cx="109.80" cy="893.00" r="2.0" fill="#74388a"/>
<circle cx="105.70" cy="906.00" r="2.0" fill="#74388a"/>
<circle cx="114.40" cy="905.20" r="2.0" fill="#74388a"/>
<line x1="105.70" y1="905.70" x2="114.40" y2="905.70" stroke="#402050" stroke-width="1.1" />
<polygon points="127.90,964.87 125.65,968.92 130.15,968.92" fill="#557a9e"/>
<polygon points="123.60,976.37 121.35,980.42 125.85,980.42" fill="#557a9e"/>
<polygon points="132.00,979.47 129.75,983.52 134.25,983.52" fill="#557a9e"/>
<polygon points="128.00,992.07 125.75,996.12 130.25,996.12" fill="#557a9e"/>
<line x1="122.00" y1="979.30" x2="133.60" y2="979.30" stroke="#223" stroke-width="1.1" />
<circle cx="157.80" cy="887.90" r="2.0" fill="#74388a"/>
<circle cx="157.80" cy="903.00" r="2.0" fill="#74388a"/>
<circle cx="157.80" cy="910.60" r="2.0" fill="#74388a"/>
<circle cx="157.80" cy="933.80" r="2.0" fill="#74388a"/>
<line x1="152.00" y1="906.50" x2="163.90" y2="906.50" stroke="#222" stroke-width="1.1" />
<polygon points="171.80,951.01 170.05,954.16 173.55,954.16" fill="#557a9e"/>
<polygon points="179.90,948.37 177.65,952.42 182.15,952.42" fill="#557a9e"/>
<polygon points="179.90,953.77 177.65,957.82 182.15,957.82" fill="#557a9e"/>
<polygon points="175.60,1024.37 173.35,1028.42 177.85,1028.42" fill="#557a9e"/>
<line x1="170.00" y1="954.30" x2="182.10" y2="954.30" stroke="#223" stroke-width="1.1" />
<text x="19.50" y="965.50" font-size="9.7" text-anchor="middle" fill="#1e1e1e" transform="rotate(-90 19.50 965.50)">CFU/lungs (Log<tspan font-size="7.5" dy="2.4">10</tspan><tspan dy="-2.4">)</tspan></text>
<circle cx="348.40" cy="885.30" r="2.15" fill="#74388a"/>
<text x="355.50" y="888.40" font-size="9.6" text-anchor="start" fill="#1e1e1e" >W4</text>
<polygon points="348.40,897.12 346.10,901.26 350.70,901.26" fill="#557a9e"/>
<text x="355.50" y="902.70" font-size="9.6" text-anchor="start" fill="#1e1e1e" >W14</text>
<line x1="441.20" y1="880.00" x2="441.20" y2="1050.20" stroke="#1a1a1a" stroke-width="1.3" />
<line x1="437.70" y1="880.60" x2="441.20" y2="880.60" stroke="#1a1a1a" stroke-width="1.2" />
<text x="432.80" y="883.60" font-size="10.5" text-anchor="end" fill="#1e1e1e" >10</text>
<text x="433.10" y="878.20" font-size="8.5" text-anchor="start" fill="#1e1e1e" >5</text>
<line x1="437.70" y1="922.85" x2="441.20" y2="922.85" stroke="#1a1a1a" stroke-width="1.2" />
<text x="432.80" y="925.85" font-size="10.5" text-anchor="end" fill="#1e1e1e" >10</text>
<text x="433.10" y="920.45" font-size="8.5" text-anchor="start" fill="#1e1e1e" >4</text>
<line x1="437.70" y1="965.10" x2="441.20" y2="965.10" stroke="#1a1a1a" stroke-width="1.2" />
<text x="432.80" y="968.10" font-size="10.5" text-anchor="end" fill="#1e1e1e" >10</text>
<text x="433.10" y="962.70" font-size="8.5" text-anchor="start" fill="#1e1e1e" >3</text>
<line x1="437.70" y1="1007.35" x2="441.20" y2="1007.35" stroke="#1a1a1a" stroke-width="1.2" />
<text x="432.80" y="1010.35" font-size="10.5" text-anchor="end" fill="#1e1e1e" >10</text>
<text x="433.10" y="1004.95" font-size="8.5" text-anchor="start" fill="#1e1e1e" >2</text>
<line x1="437.70" y1="1049.60" x2="441.20" y2="1049.60" stroke="#1a1a1a" stroke-width="1.2" />
<text x="432.80" y="1052.60" font-size="10.5" text-anchor="end" fill="#1e1e1e" >10</text>
<text x="433.10" y="1047.20" font-size="8.5" text-anchor="start" fill="#1e1e1e" >1</text>
<line x1="437.70" y1="1049.60" x2="771.50" y2="1049.60" stroke="#1a1a1a" stroke-width="1.3" />
<line x1="462.50" y1="1049.60" x2="462.50" y2="1053.10" stroke="#1a1a1a" stroke-width="1.2" />
<line x1="510.47" y1="1049.60" x2="510.47" y2="1053.10" stroke="#1a1a1a" stroke-width="1.2" />
<line x1="558.44" y1="1049.60" x2="558.44" y2="1053.10" stroke="#1a1a1a" stroke-width="1.2" />
<line x1="606.41" y1="1049.60" x2="606.41" y2="1053.10" stroke="#1a1a1a" stroke-width="1.2" />
<line x1="654.38" y1="1049.60" x2="654.38" y2="1053.10" stroke="#1a1a1a" stroke-width="1.2" />
<line x1="702.35" y1="1049.60" x2="702.35" y2="1053.10" stroke="#1a1a1a" stroke-width="1.2" />
<line x1="750.32" y1="1049.60" x2="750.32" y2="1053.10" stroke="#1a1a1a" stroke-width="1.2" />
<text x="465.00" y="1060.10" font-size="10.0" text-anchor="end" fill="#1e1e1e" transform="rotate(-45 465.00 1060.10)"><tspan font-style="italic">M. lacus</tspan></text>
<text x="512.97" y="1060.10" font-size="10.0" text-anchor="end" fill="#1e1e1e" transform="rotate(-45 512.97 1060.10)"><tspan font-style="italic">M. riyadhense</tspan></text>
<text x="560.94" y="1060.10" font-size="10.0" text-anchor="end" fill="#1e1e1e" transform="rotate(-45 560.94 1060.10)"><tspan font-style="italic">Mtb</tspan> H37Rv</text>
<text x="608.91" y="1060.10" font-size="10.0" text-anchor="end" fill="#1e1e1e" transform="rotate(-45 608.91 1060.10)"><tspan font-style="italic">M. decipiens</tspan></text>
<text x="656.88" y="1060.10" font-size="10.0" text-anchor="end" fill="#1e1e1e" transform="rotate(-45 656.88 1060.10)">M. shinjukuense</text>
<text x="704.85" y="1060.10" font-size="10.0" text-anchor="end" fill="#1e1e1e" transform="rotate(-45 704.85 1060.10)"><tspan font-style="italic">M. kansasii</tspan></text>
<text x="752.82" y="1060.10" font-size="10.0" text-anchor="end" fill="#1e1e1e" transform="rotate(-45 752.82 1060.10)">BCG Pasteur</text>
<text x="450.60" y="1044.80" font-size="9.5" text-anchor="middle" fill="#1e1e1e" >ND</text>
<text x="606.41" y="1044.70" font-size="9.5" text-anchor="middle" fill="#1e1e1e" >ND</text>
<text x="654.38" y="1044.70" font-size="9.5" text-anchor="middle" fill="#1e1e1e" >ND</text>
<text x="702.35" y="1044.70" font-size="9.5" text-anchor="middle" fill="#1e1e1e" >ND</text>
<text x="750.32" y="1044.70" font-size="9.5" text-anchor="middle" fill="#1e1e1e" >ND</text>
<polygon points="467.30,941.87 465.05,945.92 469.55,945.92" fill="#557a9e"/>
<polygon points="475.90,938.37 473.65,942.42 478.15,942.42" fill="#557a9e"/>
<polygon points="471.50,947.97 469.25,952.02 473.75,952.02" fill="#557a9e"/>
<polygon points="471.50,979.47 469.25,983.52 473.75,983.52" fill="#557a9e"/>
<line x1="464.30" y1="946.80" x2="479.00" y2="946.80" stroke="#345" stroke-width="1.1" />
<circle cx="497.40" cy="977.80" r="2.0" fill="#74388a"/>
<circle cx="506.00" cy="977.80" r="2.0" fill="#74388a"/>
<circle cx="501.50" cy="986.70" r="2.0" fill="#74388a"/>
<line x1="494.70" y1="977.80" x2="508.10" y2="977.80" stroke="#402050" stroke-width="1.1" />
<polygon points="519.40,935.07 517.15,939.12 521.65,939.12" fill="#557a9e"/>
<polygon points="515.30,981.54 513.30,985.14 517.30,985.14" fill="#557a9e"/>
<polygon points="523.30,983.07 521.05,987.12 525.55,987.12" fill="#557a9e"/>
<polygon points="519.40,1005.17 517.15,1009.22 521.65,1009.22" fill="#557a9e"/>
<line x1="512.60" y1="984.40" x2="526.90" y2="984.40" stroke="#223" stroke-width="1.1" />
<circle cx="549.60" cy="934.00" r="2.0" fill="#74388a"/>
<circle cx="549.60" cy="970.30" r="2.0" fill="#74388a"/>
<circle cx="549.60" cy="1015.90" r="2.0" fill="#74388a"/>
<line x1="542.00" y1="981.40" x2="557.00" y2="981.40" stroke="#222" stroke-width="1.1" />
<polygon points="567.50,908.27 565.25,912.32 569.75,912.32" fill="#557a9e"/>
<polygon points="563.50,916.64 561.50,920.24 565.50,920.24" fill="#557a9e"/>
<polygon points="571.60,918.67 569.35,922.72 573.85,922.72" fill="#557a9e"/>
<polygon points="567.50,1006.97 565.25,1011.02 569.75,1011.02" fill="#557a9e"/>
<line x1="560.50" y1="919.30" x2="574.80" y2="919.30" stroke="#223" stroke-width="1.1" />
<text x="411.50" y="964.90" font-size="9.9" text-anchor="middle" fill="#1e1e1e" transform="rotate(-90 411.50 964.90)">CFU/spleen (Log<tspan font-size="7.5" dy="2.4">10</tspan><tspan dy="-2.4">)</tspan></text>
<circle cx="738.90" cy="884.10" r="2.15" fill="#74388a"/>
<text x="746.30" y="887.10" font-size="9.6" text-anchor="start" fill="#1e1e1e" >W4</text>
<polygon points="738.90,896.52 736.60,900.66 741.20,900.66" fill="#557a9e"/>
<text x="746.30" y="901.40" font-size="9.6" text-anchor="start" fill="#1e1e1e" >W14</text>
</svg>
</body></html>
